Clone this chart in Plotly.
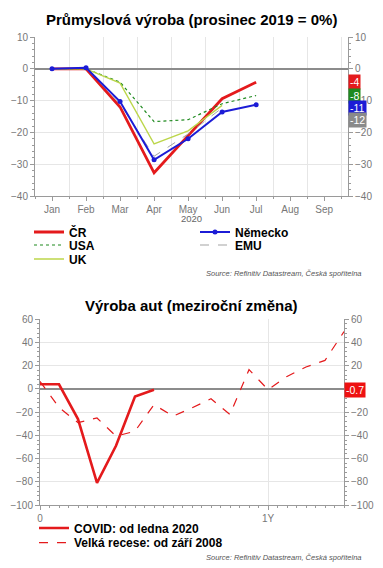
import plotly.graph_objects as go

# ---------- data: industrial production (Dec 2019 = 0 %) ----------
month_labels = ["Jan", "Feb", "Mar", "Apr", "May", "Jun", "Jul", "Aug", "Sep"]
cr = [0, 0, -12, -32.7, -21, -9.4, -4.2]
nemecko = [0, 0.3, -10.3, -28.6, -22, -13.6, -11.3]
usa = [0, 0, -4.2, -16.6, -16, -11, -8.4]
uk = [0, 0, -4.5, -23.6, -19.5, -11.5]
emu = [0, 0.2, -11, -27.5, -20.5, -12.3]

# ---------- data: car production (y/y change) ----------
covid = [4, 4, -26, -81, -49, -6.5, -0.7]
recese = [6.5, -16, -29, -25, -40.7, -36.4, -13.5, -23.5, -16.3, -8.5, -22,
          16.6, -0.6, 10.8, 18.9, 24.6, 49.4]
bottom_ticks = [0, 12]
bottom_ticktext = ["0", "1Y"]

FONT = "Liberation Sans, Arial, sans-serif"
W, H = 383, 568


def px_y(p):
    return 1 - p / H


def px_x(p):
    return p / W


fig = go.Figure()

RED = "#e41a1c"
BLUE = "#1c1cd6"
GREEN = "#1f8a1f"
YGREEN = "#bcd64a"
GRAY = "#999999"

series = [
    ("ČR", cr, dict(color=RED, width=2.8), None, "legend"),
    ("USA", usa, dict(color=GREEN, width=1.2, dash="dot"), None, "legend2"),
    ("UK", uk, dict(color=YGREEN, width=1.3), None, "legend3"),
    ("EMU", emu, dict(color=GRAY, width=0.9, dash="dash"), None, "legend5"),
    ("Německo", nemecko, dict(color=BLUE, width=2), dict(size=5, color=BLUE), "legend4"),
]
for name, vals, line, marker, lg in series:
    fig.add_trace(go.Scatter(
        x=list(range(len(vals))), y=vals, name=name,
        mode="lines+markers" if marker else "lines",
        line=line, marker=marker, legend=lg, showlegend=True,
        xaxis="x", yaxis="y"))

fig.add_trace(go.Scatter(x=list(range(len(covid))), y=covid,
                         name="COVID: od ledna 2020", mode="lines",
                         line=dict(color=RED, width=2.6), legend="legend6",
                         showlegend=True, xaxis="x2", yaxis="y3"))
fig.add_trace(go.Scatter(x=list(range(len(recese))), y=recese,
                         name="Velká recese: od září 2008", mode="lines",
                         line=dict(color=RED, width=1.2, dash="dash"),
                         legend="legend7", showlegend=True, xaxis="x2", yaxis="y3"))

# empty traces so the mirrored right-hand axes are drawn
for xa, ya in (("x", "y2"), ("x2", "y4")):
    fig.add_trace(go.Scatter(x=[], y=[], xaxis=xa, yaxis=ya, showlegend=False,
                             hoverinfo="skip", mode="lines"))

tickfont = dict(family=FONT, size=10, color="#777777")
axis_common = dict(showline=True, linecolor="#9a9a9a", linewidth=1,
                   ticks="outside", ticklen=4, tickcolor="#9a9a9a",
                   tickfont=tickfont, gridcolor="#e6e6e6", gridwidth=1,
                   automargin=False)
minor_y = lambda d: dict(dtick=d, ticks="outside", ticklen=2, tickcolor="#9a9a9a")

top_dom_y = [px_y(196), px_y(37)]
bot_dom_y = [px_y(505), px_y(319.3)]

fig.update_layout(
    template="none",
    width=W, height=H,
    margin=dict(l=0, r=0, t=0, b=0, autoexpand=False),
    paper_bgcolor="white", plot_bgcolor="white",
    font=dict(family=FONT),
    showlegend=True,
    xaxis=dict(**axis_common, domain=[px_x(35), px_x(348)], range=[-0.5, 8.7],
               tickvals=list(range(len(month_labels))), ticktext=month_labels,
               showgrid=False, zeroline=False, anchor="y",
               minor=dict(tickvals=[i + 0.5 for i in range(-1, 9)], showgrid=True,
                          gridcolor="#e6e6e6", ticks="outside", ticklen=2,
                          tickcolor="#9a9a9a")),
    yaxis=dict(**axis_common, domain=top_dom_y, range=[-40, 10], dtick=10,
               showgrid=True, zeroline=True, zerolinecolor="#8c8c8c",
               zerolinewidth=1.5, anchor="x", minor=minor_y(2)),
    yaxis2=dict(**axis_common, overlaying="y", side="right",
                range=[-40, 10], dtick=10, showgrid=False, zeroline=False,
                anchor="x", minor=minor_y(2)),
    xaxis2=dict(**axis_common, domain=[px_x(40), px_x(344)], range=[0, 16],
                tickvals=bottom_ticks, ticktext=bottom_ticktext,
                showgrid=True, zeroline=False, anchor="y3",
                minor=dict(dtick=0.5, ticks="outside", ticklen=2, tickcolor="#9a9a9a")),
    yaxis3=dict(**axis_common, domain=bot_dom_y, range=[-100, 60], dtick=20,
                showgrid=True, zeroline=True, zerolinecolor="#8c8c8c",
                zerolinewidth=1.5, anchor="x2", minor=minor_y(4)),
    yaxis4=dict(**axis_common, overlaying="y3", side="right",
                range=[-100, 60], dtick=20, showgrid=False, zeroline=False,
                anchor="x2", minor=minor_y(4)),
)

legfont = dict(family=FONT, size=12, color="black", weight="bold")
leg_pos = {
    "legend": (29, 232), "legend2": (29, 245), "legend3": (29, 259),
    "legend4": (195, 232), "legend5": (195, 245),
    "legend6": (34, 528), "legend7": (34, 542.7),
}
for key, (lx, ly) in leg_pos.items():
    fig.update_layout({key: dict(x=px_x(lx), y=px_y(ly), xanchor="left",
                                 yanchor="middle", bgcolor="rgba(0,0,0,0)",
                                 borderwidth=0, font=legfont, visible=True)})


def note(text, x, y, size, color="black", xanchor="center"):
    fig.add_annotation(text=text, x=px_x(x), y=px_y(y), xref="paper", yref="paper",
                       xanchor=xanchor, yanchor="middle", showarrow=False,
                       font=dict(family=FONT, size=size, color=color))


# titles and notes
note("<b>Průmyslová výroba (prosinec 2019 = 0%)</b>", W / 2, 20, 15)
note("<b>Výroba aut (meziroční změna)</b>", W / 2, 305, 15)
note("2020", 192, 218.5, 9.5, "#666")
for yy in (273, 557):
    note("<i>Source: Refinitiv Datastream, Česká spořitelna</i>", 363, yy, 7.5,
         "#555", xanchor="right")

# last-value labels on the right axis (pushed apart to avoid overlap)
last = [(cr[-1], RED), (usa[-1], GREEN), (nemecko[-1], BLUE), (emu[-1], "#8a8a8a")]
last.sort(key=lambda t: -t[0])
pos = None
min_gap = 3.8
for val, col in last:
    p = val if pos is None else min(val, pos - min_gap)
    pos = p
    fig.add_annotation(text=f"{round(val):d}", x=1, xref="x domain", y=p, yref="y",
                       xanchor="left", yanchor="middle", showarrow=False,
                       bgcolor=col, borderpad=1,
                       font=dict(family=FONT, size=10.5, color="white"))

fig.add_annotation(text=f"{covid[-1]:.1f}", x=1, xref="x2 domain", y=covid[-1], yref="y3",
                   xanchor="left", yanchor="middle", showarrow=False,
                   bgcolor="#ee1111", borderpad=1,
                   font=dict(family=FONT, size=10.5, color="white"))

fig.write_html("out.html", config={"displayModeBar": False},
               post_script="document.body.style.margin='0px';")
